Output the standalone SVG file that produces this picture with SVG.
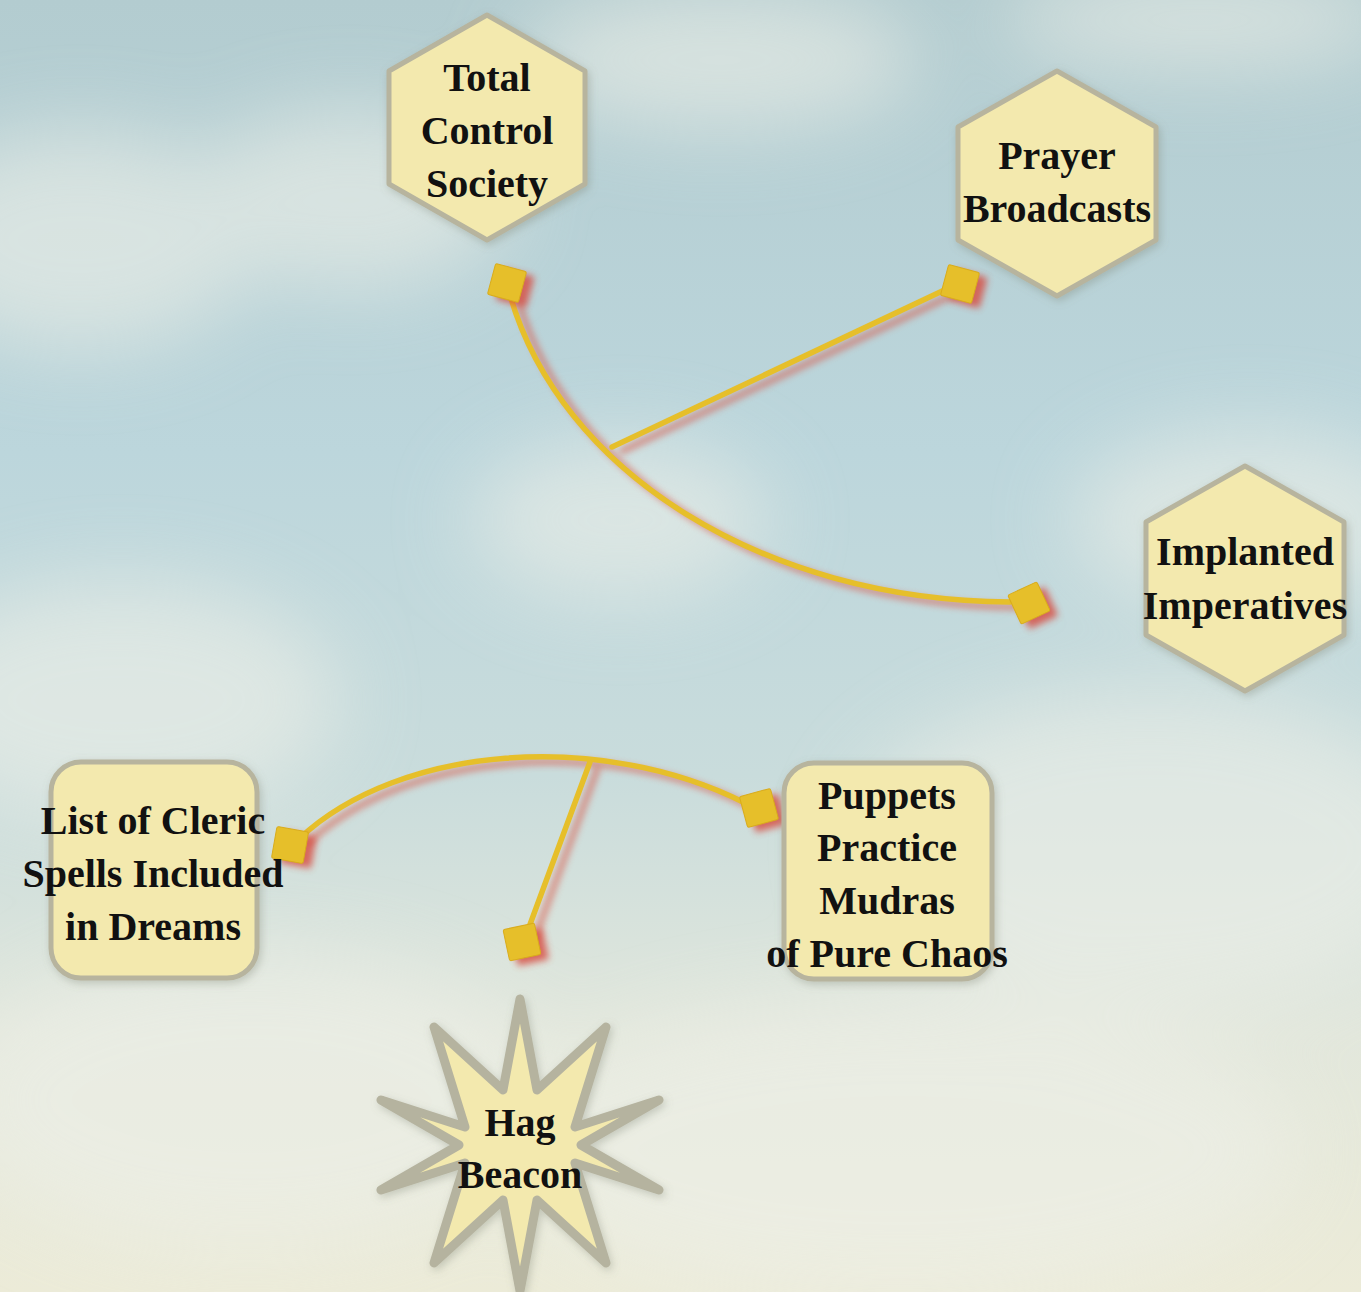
<svg xmlns="http://www.w3.org/2000/svg" width="1361" height="1292" viewBox="0 0 1361 1292">
  <defs>
    <linearGradient id="sky" x1="0" y1="0" x2="0" y2="1">
      <stop offset="0" stop-color="#b3ccd0"/>
      <stop offset="0.35" stop-color="#bcd6dc"/>
      <stop offset="0.6" stop-color="#c9dcdc"/>
      <stop offset="0.8" stop-color="#e2e7dc"/>
      <stop offset="1" stop-color="#ecebd8"/>
    </linearGradient>
    <filter id="cloud" x="-50%" y="-50%" width="200%" height="200%">
      <feGaussianBlur stdDeviation="40"/>
    </filter>
    <filter id="blur" x="-50%" y="-50%" width="200%" height="200%">
      <feGaussianBlur stdDeviation="3.5"/>
    </filter>
    <filter id="nodeShadow" x="-20%" y="-20%" width="140%" height="140%">
      <feDropShadow dx="2" dy="3" stdDeviation="4" flood-color="#7a8070" flood-opacity="0.35"/>
    </filter>
    <rect id="sq" x="-16" y="-16" width="32" height="32" rx="2"/>
  </defs>
  <style>
    .node { fill: #f3e9ae; stroke: #b7b49e; stroke-width: 5; stroke-linejoin: round; filter: url(#nodeShadow); }
    .star { stroke-width: 9; stroke: #b5b39f; }
    .label { font-family: "Liberation Serif", "DejaVu Serif", serif; font-size: 40px; font-weight: bold; fill: #111; text-anchor: middle; }
    .wire { fill: none; stroke: #e6bf2a; stroke-width: 5.5; stroke-linecap: round; }
    .shadow { fill: none; stroke: #d9584a; stroke-width: 6; opacity: 0.65; filter: url(#blur); }
    .cap { fill: #e6bf2a; stroke: #d9ac1c; stroke-width: 1; }
    .capShadow { fill: #d84a3c; opacity: 0.8; filter: url(#blur); }
  </style>

  <!-- background -->
  <rect width="1361" height="1292" fill="url(#sky)"/>
  <g filter="url(#cloud)" fill="#eef0e8" opacity="0.6">
    <ellipse cx="80" cy="240" rx="180" ry="110"/>
    <ellipse cx="350" cy="200" rx="160" ry="90"/>
    <ellipse cx="720" cy="60" rx="200" ry="70"/>
    <ellipse cx="1200" cy="20" rx="200" ry="50"/>
    <ellipse cx="620" cy="520" rx="150" ry="80"/>
    <ellipse cx="120" cy="700" rx="220" ry="120"/>
    <ellipse cx="1250" cy="520" rx="180" ry="90"/>
    <ellipse cx="1150" cy="850" rx="300" ry="160"/>
    <ellipse cx="250" cy="1100" rx="300" ry="150"/>
    <ellipse cx="900" cy="1150" rx="400" ry="150"/>
  </g>

  <!-- connectors -->
  <g id="connectors">
    <g transform="translate(8,5)">
      <path class="shadow" d="M510,295 C560,470 760,600 1010,602"/>
      <path class="shadow" d="M955,285 L612,447"/>
      <path class="shadow" d="M300,838 C400,745 600,730 745,803"/>
      <path class="shadow" d="M590,762 L525,938"/>
    </g>
    <path class="wire" d="M510,295 C560,470 760,600 1010,602"/>
    <path class="wire" d="M955,285 L612,447"/>
    <path class="wire" d="M300,838 C400,745 600,730 745,803"/>
    <path class="wire" d="M590,762 L525,938"/>

    <g transform="translate(515,288) rotate(15)"><use href="#sq" class="capShadow"/></g>
    <g transform="translate(507,283) rotate(15)"><use href="#sq" class="cap"/></g>

    <g transform="translate(968,289) rotate(15)"><use href="#sq" class="capShadow"/></g>
    <g transform="translate(960,284) rotate(15)"><use href="#sq" class="cap"/></g>

    <g transform="translate(1037,608) rotate(-25)"><use href="#sq" class="capShadow"/></g>
    <g transform="translate(1029,603) rotate(-25)"><use href="#sq" class="cap"/></g>

    <g transform="translate(298,850) rotate(10)"><use href="#sq" class="capShadow"/></g>
    <g transform="translate(290,845) rotate(10)"><use href="#sq" class="cap"/></g>

    <g transform="translate(767,813) rotate(-15)"><use href="#sq" class="capShadow"/></g>
    <g transform="translate(759,808) rotate(-15)"><use href="#sq" class="cap"/></g>

    <g transform="translate(530,947) rotate(-12)"><use href="#sq" class="capShadow"/></g>
    <g transform="translate(522,942) rotate(-12)"><use href="#sq" class="cap"/></g>
  </g>

  <!-- nodes -->
  <g id="total-control-society">
    <polygon class="node" points="487,15 585,71 585,184 487,240 389,184 389,71"/>
    <text class="label" x="487" y="91">Total</text>
    <text class="label" x="487" y="144">Control</text>
    <text class="label" x="487" y="197">Society</text>
  </g>

  <g id="prayer-broadcasts">
    <polygon class="node" points="1057,71 1156,127 1156,240 1057,296 958,240 958,127"/>
    <text class="label" x="1057" y="169">Prayer</text>
    <text class="label" x="1057" y="222">Broadcasts</text>
  </g>

  <g id="implanted-imperatives">
    <polygon class="node" points="1245,466 1344,522 1344,635 1245,691 1146,635 1146,522"/>
    <text class="label" x="1245" y="565">Implanted</text>
    <text class="label" x="1245" y="619">Imperatives</text>
  </g>

  <g id="list-of-cleric-spells">
    <rect class="node" x="51" y="762" width="206" height="216" rx="30"/>
    <text class="label" x="153" y="834">List of Cleric</text>
    <text class="label" x="153" y="887">Spells Included</text>
    <text class="label" x="153" y="940">in Dreams</text>
  </g>

  <g id="puppets-practice-mudras">
    <rect class="node" x="784" y="763" width="208" height="216" rx="30"/>
    <text class="label" x="887" y="809">Puppets</text>
    <text class="label" x="887" y="861">Practice</text>
    <text class="label" x="887" y="914">Mudras</text>
    <text class="label" x="887" y="967">of Pure Chaos</text>
  </g>

  <g id="hag-beacon">
    <polygon class="node star" points="520,999 537,1090 606,1027 575,1127 659,1100 581,1145 659,1190 575,1163 606,1263 537,1200 520,1291 503,1200 434,1263 465,1163 381,1190 459,1145 381,1100 465,1127 434,1027 503,1090"/>
    <text class="label" x="520" y="1136">Hag</text>
    <text class="label" x="520" y="1188">Beacon</text>
  </g>
</svg>
